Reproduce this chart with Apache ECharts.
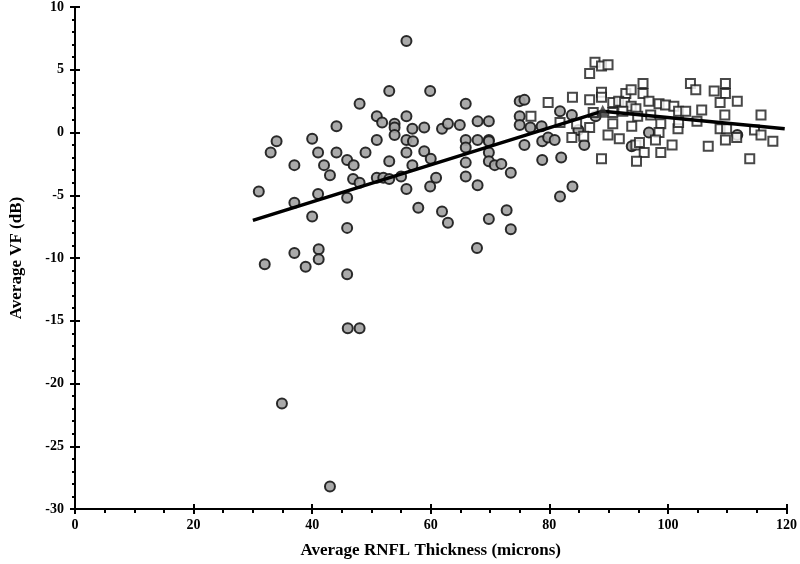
<!DOCTYPE html>
<html>
<head>
<meta charset="utf-8">
<script src="https://cdn.jsdelivr.net/npm/echarts@6/dist/echarts.min.js"></script>
<style>html,body{margin:0;padding:0;background:#fff}#c{width:800px;height:564px}</style>
</head>
<body>
<div id="c"></div>
<script>
// Glaucoma eyes (grey circles): [RNFL thickness, average VF]
const glaucomaPoints = [[31.0,-4.7],[32.0,-10.5],[33.0,-1.6],[34.0,-0.7],[34.9,-21.6],[37.0,-2.6],[37.0,-5.6],[37.0,-9.6],[38.9,-10.7],[40.0,-0.5],[40.0,-6.7],[41.0,-1.6],[41.0,-4.9],[41.1,-9.3],[41.1,-10.1],[42.0,-2.6],[43.0,-3.4],[43.0,-28.2],[44.1,0.5],[44.1,-1.6],[45.9,-2.2],[45.9,-5.2],[45.9,-7.6],[45.9,-11.3],[46.0,-15.6],[48.0,-15.6],[47.0,-2.6],[46.9,-3.7],[48.0,-4.0],[48.0,2.3],[49.0,-1.6],[50.9,1.3],[50.9,-0.6],[51.8,0.8],[50.9,-3.6],[52.0,-3.6],[53.0,-3.7],[53.0,3.3],[53.0,-2.3],[53.9,0.7],[53.9,0.4],[53.9,-0.2],[55.0,-3.5],[55.9,7.3],[55.9,1.3],[55.9,-0.6],[55.9,-1.6],[55.9,-4.5],[56.9,0.3],[57.0,-0.7],[56.9,-2.6],[57.9,-6.0],[58.9,0.4],[58.9,-1.5],[59.9,3.3],[60.0,-2.1],[59.9,-4.3],[60.9,-3.6],[61.9,0.3],[61.9,-6.3],[62.9,0.7],[62.9,-7.2],[64.9,0.6],[65.9,2.3],[65.9,-0.6],[65.9,-1.2],[65.9,-2.4],[65.9,-3.5],[67.9,0.9],[67.9,-0.6],[67.9,-4.2],[67.8,-9.2],[69.8,0.9],[69.8,-0.6],[69.8,-0.7],[69.8,-1.6],[69.8,-2.3],[69.8,-6.9],[70.8,-2.6],[71.9,-2.5],[73.5,-3.2],[72.8,-6.2],[73.5,-7.7],[75.0,2.5],[75.8,2.6],[75.0,1.3],[75.0,0.6],[76.8,0.4],[78.7,0.5],[75.8,-1.0],[78.8,-0.7],[79.8,-0.4],[80.9,-0.6],[78.8,-2.2],[82.0,-2.0],[81.8,1.7],[83.8,1.4],[84.9,0.2],[85.9,-1.0],[83.9,-4.3],[81.8,-5.1],[87.8,1.3],[93.9,-1.1],[96.8,0.0],[111.7,-0.2]];
// Normal eyes (open squares)
const normalPoints = [[87.7,5.6],[88.8,5.3],[89.9,5.4],[86.8,4.7],[79.8,2.4],[83.9,2.8],[86.8,2.6],[88.8,3.2],[88.8,2.8],[92.9,3.1],[93.8,3.4],[95.8,3.9],[95.8,3.1],[76.9,1.3],[81.8,0.8],[86.8,0.4],[90.7,0.7],[90.7,2.4],[91.7,2.5],[92.7,2.4],[93.8,2.1],[94.6,1.9],[89.9,-0.2],[91.8,-0.5],[83.8,-0.4],[93.9,0.5],[94.6,-1.0],[96.0,-1.6],[88.8,-2.1],[85.8,-0.3],[96.8,2.5],[98.5,2.3],[99.6,2.2],[101.0,2.1],[87.4,1.6],[90.7,1.6],[92.4,1.7],[94.9,1.3],[97.1,1.4],[98.8,0.7],[101.7,0.3],[84.6,0.7],[98.5,0.0],[95.2,-0.8],[97.9,-0.6],[98.8,-1.6],[100.7,-1.0],[94.7,-2.3],[103.8,3.9],[104.7,3.4],[107.8,3.3],[109.7,3.9],[109.7,3.1],[108.8,2.4],[111.7,2.5],[101.8,1.7],[103.0,1.7],[105.7,1.8],[109.6,1.4],[115.7,1.4],[101.8,0.8],[104.9,0.9],[108.8,0.3],[109.9,0.3],[114.6,0.2],[115.7,-0.2],[111.6,-0.4],[106.8,-1.1],[109.7,-0.6],[117.7,-0.7],[113.8,-2.1]];
// Broken-stick fit
const trendLine = [[30,-7.0],[89,1.7],[119.7,0.3]];
const breakPoint = [[89,1.7]];
const xTicks = [0,20,40,60,80,100,120];
const yTicks = [-30,-25,-20,-15,-10,-5,0,5,10];

const font = '"Liberation Serif","Times New Roman",serif';
const chart = echarts.init(document.getElementById('c'));
const axLine = {show:true, onZero:false, lineStyle:{color:'#000', width:2}};
chart.setOption({
  animation:false,
  backgroundColor:'#fff',
  grid:{left:70, right:11, top:7, bottom:55, containLabel:false},
  xAxis:[{
    type:'value', min:xTicks[0], max:xTicks[xTicks.length-1], interval:20,
    axisLine:axLine,
    axisTick:{show:true, length:5, lineStyle:{color:'#000', width:2}},
    minorTick:{show:true, splitNumber:4, length:4, lineStyle:{color:'#000', width:2}},
    splitLine:{show:false},
    axisLabel:{color:'#000', fontFamily:font, fontWeight:'bold', fontSize:14, margin:9},
    name:'Average RNFL Thickness (microns)', nameLocation:'middle', nameGap:33,
    nameTextStyle:{color:'#000', fontFamily:font, fontWeight:'bold', fontSize:17}
  },{
    type:'value', min:0, max:120, interval:20, position:'bottom',
    axisLine:{show:false, onZero:false}, axisLabel:{show:false}, splitLine:{show:false},
    axisTick:{show:true, inside:true, length:5, lineStyle:{color:'#000', width:2}}
  }],
  yAxis:[{
    type:'value', min:yTicks[0], max:yTicks[yTicks.length-1], interval:5,
    axisLine:axLine,
    axisTick:{show:true, length:5, lineStyle:{color:'#000', width:2}},
    minorTick:{show:true, splitNumber:5, length:3, lineStyle:{color:'#000', width:2}},
    splitLine:{show:false},
    axisLabel:{color:'#000', fontFamily:font, fontWeight:'bold', fontSize:14, margin:11},
    name:'Average VF (dB)', nameLocation:'middle', nameGap:50, nameRotate:90,
    nameTextStyle:{color:'#000', fontFamily:font, fontWeight:'bold', fontSize:17}
  },{
    type:'value', min:-30, max:10, interval:5, position:'left',
    axisLine:{show:false, onZero:false}, axisLabel:{show:false}, splitLine:{show:false},
    axisTick:{show:true, inside:true, length:5, lineStyle:{color:'#000', width:2}}
  }],
  series:[
    {type:'scatter', data:glaucomaPoints, symbol:'circle', symbolSize:10,
     itemStyle:{color:'#a3a3a3', borderColor:'#1a1a1a', borderWidth:2, opacity:0.92}},
    {type:'scatter', data:normalPoints, symbol:'rect', symbolSize:9,
     itemStyle:{color:'#fff', borderColor:'#1a1a1a', borderWidth:2}},
    {type:'line', data:trendLine, symbol:'none', lineStyle:{color:'#000', width:3.5}, z:5},
    {type:'scatter', data:breakPoint, symbol:'triangle', symbolSize:13,
     itemStyle:{color:'#333'}, z:6}
  ]
});
</script>
</body>
</html>
